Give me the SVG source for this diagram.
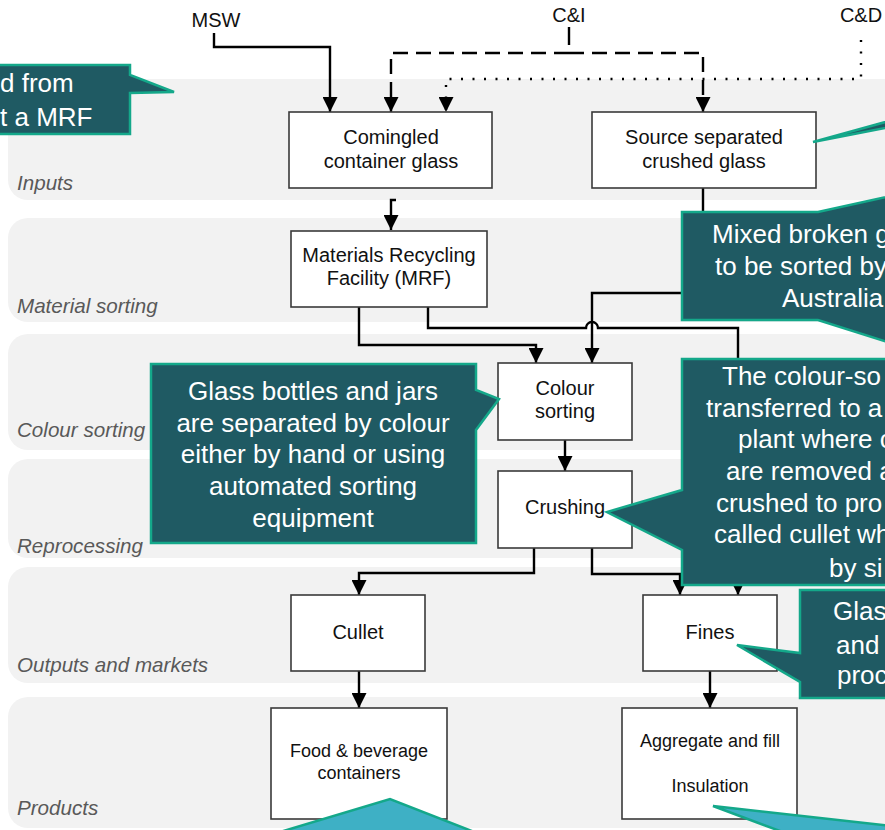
<svg xmlns="http://www.w3.org/2000/svg" width="885" height="830" viewBox="0 0 885 830">
<style>
.lane{fill:#f2f2f2}
.ll{font-family:"Liberation Sans",Arial,sans-serif;font-size:20.6px;font-style:italic;fill:#595959}
.box{fill:#fff;stroke:#3a3a3a;stroke-width:1.6}
.bt{font-family:"Liberation Sans",Arial,sans-serif;font-size:20px;fill:#111;text-anchor:middle}
.bs{font-family:"Liberation Sans",Arial,sans-serif;font-size:18px;fill:#111;text-anchor:middle}
.src{font-family:"Liberation Sans",Arial,sans-serif;font-size:20px;fill:#111;text-anchor:middle}
.ln{fill:none;stroke:#000;stroke-width:2.4}
.dash{stroke-dasharray:15 8}
.dot{stroke-dasharray:2 9.5}
.co{fill:#1f5a63;stroke:#14a88a;stroke-width:2.5}
.cl{fill:#3eb0c5;stroke:#14a88a;stroke-width:2.5}
.ct{font-family:"Liberation Sans",Arial,sans-serif;font-size:26px;fill:#fff}
</style>
<defs>
<marker id="ah" viewBox="0 0 15 15" refX="15" refY="7.5" markerWidth="15" markerHeight="15" markerUnits="userSpaceOnUse" orient="auto">
<path d="M0,0 L15,7.5 L0,15 z" fill="#000"/>
</marker>
</defs>
<g id="lanes">
<rect class="lane" x="8" y="79" width="920" height="121" rx="20"/>
<rect class="lane" x="8" y="218" width="920" height="104" rx="20"/>
<rect class="lane" x="8" y="334" width="920" height="116" rx="20"/>
<rect class="lane" x="8" y="459" width="920" height="99" rx="20"/>
<rect class="lane" x="8" y="567" width="920" height="116" rx="20"/>
<rect class="lane" x="8" y="697" width="920" height="131" rx="20"/>
<text class="ll" x="17" y="190">Inputs</text>
<text class="ll" x="17" y="313">Material sorting</text>
<text class="ll" x="17" y="437">Colour sorting</text>
<text class="ll" x="17" y="553">Reprocessing</text>
<text class="ll" x="17" y="672">Outputs and markets</text>
<text class="ll" x="17" y="815">Products</text>
</g>
<g id="sources">
<text class="src" x="216" y="27">MSW</text>
<text class="src" x="569" y="22">C&amp;I</text>
<text class="src" x="861" y="22">C&amp;D</text>
</g>
<g id="connectors">
<path class="ln" d="M214,33 V47 H330 V112" marker-end="url(#ah)"/>
<path class="ln" d="M569,27 V45"/>
<path class="ln dash" d="M569,53 H391 V112" marker-end="url(#ah)"/>
<path class="ln dash" d="M569,53 H703 V112" marker-end="url(#ah)"/>
<path class="ln dot" d="M861,40 V79 H446 V112" marker-end="url(#ah)"/>
<path class="ln" d="M396,200 H391 V230" marker-end="url(#ah)"/>
<path class="ln" d="M359,307 V345 H536 V363" marker-end="url(#ah)"/>
<path class="ln" d="M703,188 V293 H592 V363" marker-end="url(#ah)"/>
<path class="ln" d="M428,307 V328 H586 A6,6 0 0 1 598,328 H738 V595" marker-end="url(#ah)"/>
<path class="ln" d="M565,440 V471" marker-end="url(#ah)"/>
<path class="ln" d="M534,548 V573 H359 V595" marker-end="url(#ah)"/>
<path class="ln" d="M592,548 V574 H680 V595" marker-end="url(#ah)"/>
<path class="ln" d="M359,671 V708" marker-end="url(#ah)"/>
<path class="ln" d="M710,671 V708" marker-end="url(#ah)"/>
</g>
<g id="comingled">
<rect class="box" x="289" y="112" width="203" height="76"/>
<text class="bt" x="391" y="144">Comingled</text>
<text class="bt" x="391" y="168">container glass</text>
</g>
<g id="source-separated">
<rect class="box" x="592" y="112" width="224" height="76"/>
<text class="bt" x="704" y="144">Source separated</text>
<text class="bt" x="704" y="168">crushed glass</text>
</g>
<g id="mrf">
<rect class="box" x="291" y="231" width="196" height="76"/>
<text class="bt" x="389" y="262">Materials Recycling</text>
<text class="bt" x="389" y="285">Facility (MRF)</text>
</g>
<g id="colour-sorting">
<rect class="box" x="498" y="363" width="134" height="77"/>
<text class="bt" x="565" y="395">Colour</text>
<text class="bt" x="565" y="418">sorting</text>
</g>
<g id="crushing">
<rect class="box" x="498" y="471" width="134" height="77"/>
<text class="bt" x="565" y="514">Crushing</text>
</g>
<g id="cullet">
<rect class="box" x="291" y="595" width="134" height="76"/>
<text class="bt" x="358" y="639">Cullet</text>
</g>
<g id="fines">
<rect class="box" x="643" y="595" width="134" height="76"/>
<text class="bt" x="710" y="639">Fines</text>
</g>
<g id="food-beverage">
<rect class="box" x="271" y="708" width="176" height="111"/>
<text class="bs" x="359" y="757">Food &amp; beverage</text>
<text class="bs" x="359" y="779">containers</text>
</g>
<g id="aggregate">
<rect class="box" x="622" y="708" width="175" height="111"/>
<text class="bs" x="710" y="747">Aggregate and fill</text>
<text class="bs" x="710" y="792">Insulation</text>
</g>
<g id="callout-mrf">
<polygon class="co" points="-10,65 130,65 130,75 174,92 130,93 130,134 -10,134"/>
<text class="ct" x="0" y="92">d from</text>
<text class="ct" x="0" y="126">t a MRF</text>
</g>
<g id="callout-source">
<polygon class="co" points="813,142 900,118 900,125"/>
</g>
<g id="callout-mixed">
<polygon class="co" points="682,212 818,212 900,194 900,346 818,320 682,320"/>
<text class="ct" x="712" y="243">Mixed broken g</text>
<text class="ct" x="715" y="275">to be sorted by</text>
<text class="ct" x="782" y="307">Australia</text>
</g>
<g id="callout-colour">
<polygon class="co" points="151,364 476,364 476,390 499,399 476,430 476,543 151,543"/>
<text class="ct" x="313" y="400" text-anchor="middle">Glass bottles and jars</text>
<text class="ct" x="313" y="432" text-anchor="middle">are separated by colour</text>
<text class="ct" x="313" y="463" text-anchor="middle">either by hand or using</text>
<text class="ct" x="313" y="495" text-anchor="middle">automated sorting</text>
<text class="ct" x="313" y="527" text-anchor="middle">equipment</text>
</g>
<g id="callout-crushing">
<polygon class="co" points="682,359 900,359 900,585 682,585 682,550 607,512 682,490"/>
<text class="ct" x="722" y="385">The colour-so</text>
<text class="ct" x="706" y="417">transferred to a</text>
<text class="ct" x="738" y="448">plant where co</text>
<text class="ct" x="726" y="480">are removed a</text>
<text class="ct" x="716" y="512">crushed to pro</text>
<text class="ct" x="714" y="543">called cullet wh</text>
<text class="ct" x="829" y="577">by si</text>
</g>
<g id="callout-fines">
<polygon class="co" points="800,590 900,590 900,698 800,698 800,682 737,645 800,653"/>
<text class="ct" x="833" y="620">Glas</text>
<text class="ct" x="836" y="654">and</text>
<text class="ct" x="837" y="684">proc</text>
</g>
<g id="callout-food">
<polygon class="cl" points="270,835 390,799 482,835"/>
</g>
<g id="callout-insulation">
<polygon class="cl" points="713,806 900,827 900,840 804,840"/>
</g>
</svg>
